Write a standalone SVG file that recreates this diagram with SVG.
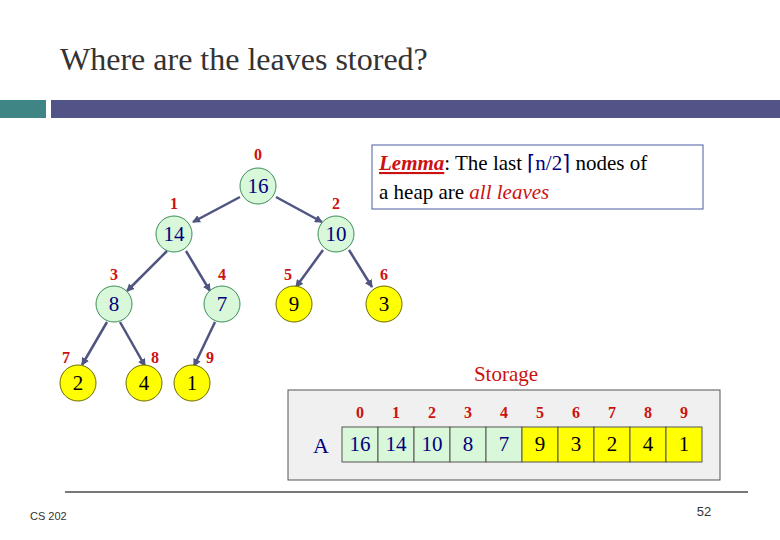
<svg xmlns="http://www.w3.org/2000/svg" width="780" height="540" viewBox="0 0 780 540">
<style>
.in{fill:#d9f7d9;stroke:#3c8c5a;stroke-width:1}
.lf{fill:#ffff00;stroke:#6b6b00;stroke-width:1}
.v{font-family:"Liberation Serif",serif;font-size:21px;text-anchor:middle;fill:#000080}
.vk{font-family:"Liberation Serif",serif;font-size:21px;text-anchor:middle;fill:#000}
.ix{font-family:"Liberation Serif",serif;font-size:16px;font-weight:bold;text-anchor:middle;fill:#cc1111}
.e{stroke:#4f5580;stroke-width:2.5;fill:none;marker-end:url(#a)}
.cg{fill:#d9f7d9;stroke:#555;stroke-width:1}
.cy{fill:#ffff00;stroke:#555;stroke-width:1}
</style>
<defs><marker id="a" markerWidth="8" markerHeight="8" refX="7" refY="4" orient="auto" markerUnits="userSpaceOnUse"><path d="M0,0 L8,4 L0,8 z" fill="#4f5580"/></marker></defs>
<rect width="780" height="540" fill="#fff"/>
<text x="60" y="70" font-family="Liberation Serif,serif" font-size="32" fill="#333">Where are the leaves stored?</text>
<rect x="0" y="100" width="46" height="18" fill="#3f8585"/>
<rect x="51" y="100" width="729" height="18" fill="#525488"/>
<g id="edges">
<line class="e" x1="240" y1="197" x2="193" y2="222"/>
<line class="e" x1="276" y1="197" x2="322" y2="222"/>
<line class="e" x1="167" y1="251" x2="127" y2="291"/>
<line class="e" x1="186" y1="251" x2="210" y2="291"/>
<line class="e" x1="323" y1="250" x2="296" y2="287"/>
<line class="e" x1="349" y1="250" x2="372" y2="287"/>
<line class="e" x1="107" y1="322" x2="82" y2="365"/>
<line class="e" x1="120" y1="322" x2="145" y2="366"/>
<line class="e" x1="215" y1="322" x2="194" y2="366"/>
</g>
<g id="n0"><circle class="in" cx="258" cy="186" r="18"/><text class="v" x="258" y="193">16</text><text class="ix" x="258" y="160">0</text></g>
<g id="n1"><circle class="in" cx="174" cy="234" r="18"/><text class="v" x="174" y="241">14</text><text class="ix" x="174" y="209">1</text></g>
<g id="n2"><circle class="in" cx="336" cy="234" r="18"/><text class="v" x="336" y="241">10</text><text class="ix" x="336" y="209">2</text></g>
<g id="n3"><circle class="in" cx="114" cy="304" r="18"/><text class="v" x="114" y="311">8</text><text class="ix" x="114" y="280">3</text></g>
<g id="n4"><circle class="in" cx="222" cy="304" r="18"/><text class="v" x="222" y="311">7</text><text class="ix" x="222" y="280">4</text></g>
<g id="n5"><circle class="lf" cx="294" cy="304" r="18"/><text class="vk" x="294" y="311">9</text><text class="ix" x="288" y="280">5</text></g>
<g id="n6"><circle class="lf" cx="384" cy="304" r="18"/><text class="vk" x="384" y="311">3</text><text class="ix" x="384" y="280">6</text></g>
<g id="n7"><circle class="lf" cx="78" cy="383" r="18"/><text class="vk" x="78" y="390">2</text><text class="ix" x="66" y="363">7</text></g>
<g id="n8"><circle class="lf" cx="144" cy="383" r="18"/><text class="vk" x="144" y="390">4</text><text class="ix" x="155" y="363">8</text></g>
<g id="n9"><circle class="lf" cx="192" cy="383" r="18"/><text class="vk" x="192" y="390">1</text><text class="ix" x="210" y="363">9</text></g>
<g id="lemma">
<rect x="372" y="145" width="331" height="64" fill="#fff" stroke="#4a5aa0" stroke-width="1"/>
<text x="379" y="170" font-family="Liberation Serif,serif" font-size="21" fill="#000"><tspan fill="#cc1111" font-weight="bold" font-style="italic" text-decoration="underline">Lemma</tspan>: The last <tspan fill="#000080">⌈n/2⌉</tspan> nodes of</text>
<text x="379" y="199" font-family="Liberation Serif,serif" font-size="21" fill="#000">a heap are <tspan fill="#cc1111" font-style="italic">all leaves</tspan></text>
</g>
<text x="506" y="381" font-family="Liberation Serif,serif" font-size="21" fill="#cc1111" text-anchor="middle">Storage</text>
<g id="storage">
<rect x="288" y="390" width="432" height="90" fill="#f0f0f0" stroke="#555" stroke-width="1"/>
<text x="321" y="453" font-family="Liberation Serif,serif" font-size="22" fill="#000080" text-anchor="middle">A</text>
<rect class="cg" x="342" y="427" width="36" height="35"/><rect class="cg" x="378" y="427" width="36" height="35"/><rect class="cg" x="414" y="427" width="36" height="35"/><rect class="cg" x="450" y="427" width="36" height="35"/><rect class="cg" x="486" y="427" width="36" height="35"/>
<rect class="cy" x="522" y="427" width="36" height="35"/><rect class="cy" x="558" y="427" width="36" height="35"/><rect class="cy" x="594" y="427" width="36" height="35"/><rect class="cy" x="630" y="427" width="36" height="35"/><rect class="cy" x="666" y="427" width="36" height="35"/>
<text class="v" x="360" y="451">16</text><text class="v" x="396" y="451">14</text><text class="v" x="432" y="451">10</text><text class="v" x="468" y="451">8</text><text class="v" x="504" y="451">7</text>
<text class="vk" x="540" y="451">9</text><text class="vk" x="576" y="451">3</text><text class="vk" x="612" y="451">2</text><text class="vk" x="648" y="451">4</text><text class="vk" x="684" y="451">1</text>
<text class="ix" x="360" y="418">0</text><text class="ix" x="396" y="418">1</text><text class="ix" x="432" y="418">2</text><text class="ix" x="468" y="418">3</text><text class="ix" x="504" y="418">4</text><text class="ix" x="540" y="418">5</text><text class="ix" x="576" y="418">6</text><text class="ix" x="612" y="418">7</text><text class="ix" x="648" y="418">8</text><text class="ix" x="684" y="418">9</text>
</g>
<line x1="65" y1="492" x2="748" y2="492" stroke="#777" stroke-width="2"/>
<text x="30" y="520" font-family="Liberation Sans,sans-serif" font-size="11" fill="#333">CS 202</text>
<text x="704" y="516" font-family="Liberation Sans,sans-serif" font-size="13" fill="#333" text-anchor="middle">52</text>
</svg>
